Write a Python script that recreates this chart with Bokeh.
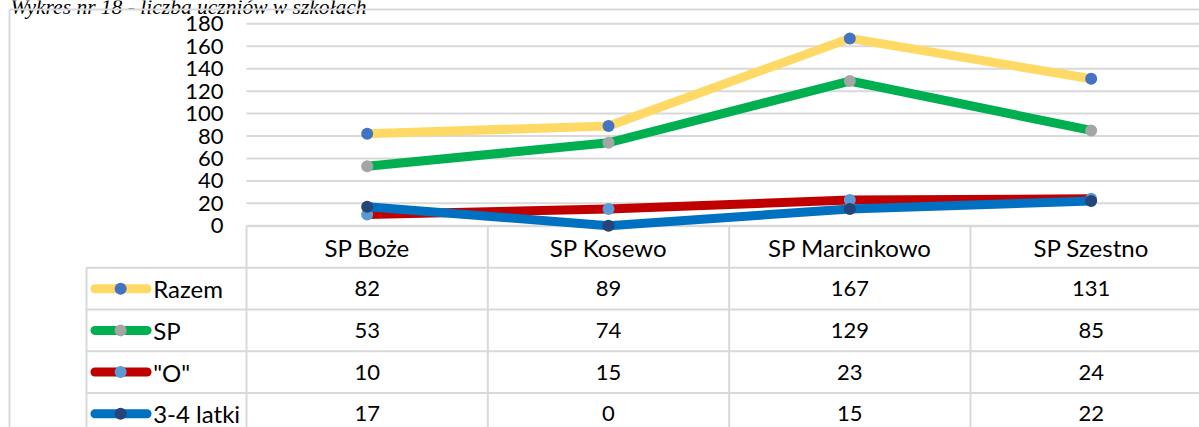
from bokeh.plotting import figure
from bokeh.models import Range1d, LinearAxis, FixedTicker
from bokeh.core.properties import value
from bokeh.embed import file_html
from bokeh.resources import INLINE

# ---- data ----
title = "Wykres nr 18 - liczba uczniów w szkołach"
categories = ["SP Boże", "SP Kosewo", "SP Marcinkowo", "SP Szestno"]
series_names = ["Razem", "SP", '"O"', "3-4 latki"]
razem = [82, 89, 167, 131]
sp = [53, 74, 129, 85]
o_vals = [10, 15, 23, 24]
latki = [17, 0, 15, 22]
y_ticks = [0, 20, 40, 60, 80, 100, 120, 140, 160, 180]

series_values = [razem, sp, o_vals, latki]
line_colors = ["#FFD966", "#00B050", "#C00000", "#0070C0"]
marker_colors = ["#4472C4", "#A5A5A5", "#5B9BD5", "#264478"]

FONT = "Lato"
FS_TXT = "24px"
FS_NUM = "22px"
GRID = "#D9D9D9"
LW = 9
MS = 12

n_cat = len(categories)
n_rows = len(series_names)

# layout constants (category units / value units / table-row units)
X_START, X_END = -1.01935, 3.94895
Y_START, Y_END = -179.73, 200.76
T_BOTTOM, T_TOP = 4.8308, -5.4164
LEG_X = -0.663
KEY_X0, KEY_X1, KEY_XM = -0.628, -0.412, -0.5215
LABEL_X = -0.3866
BORDER_X, BORDER_Y = -0.98206, 192.74
TITLE_X, TITLE_Y = -0.9779, 194.53

p = figure(width=1199, height=427, output_backend="svg", toolbar_location=None,
           x_range=Range1d(X_START, X_END), y_range=Range1d(Y_START, Y_END),
           x_axis_location=None, y_axis_location=None,
           min_border=0, min_border_left=0, min_border_top=0,
           min_border_right=0, min_border_bottom=0,
           border_fill_color="white", background_fill_color="white",
           outline_line_color=None)
p.grid.visible = False
p.extra_y_ranges = {"table": Range1d(start=T_BOTTOM, end=T_TOP)}

# title (cut at the top as in the source picture)
p.text(x=[TITLE_X], y=[TITLE_Y], text=[title], text_font=value("Liberation Serif"),
       text_font_style="italic", text_font_size="21.5px", text_color="black",
       text_align="left", text_baseline="alphabetic")

# outer chart border (left + top)
p.segment(x0=[BORDER_X, BORDER_X], x1=[BORDER_X, X_END], y0=[BORDER_Y, BORDER_Y],
          y1=[Y_START, BORDER_Y], line_color=GRID, line_width=2)

# gridlines
p.segment(x0=[0] * len(y_ticks), x1=[n_cat] * len(y_ticks), y0=y_ticks, y1=y_ticks,
          line_color=GRID, line_width=2)

# y axis
yaxis = LinearAxis(fixed_location=0, ticker=FixedTicker(ticks=y_ticks),
                   axis_line_color=None, major_tick_line_color=None,
                   minor_tick_line_color=None, major_tick_out=0, major_tick_in=0,
                   major_label_standoff=23, major_label_text_font=FONT,
                   major_label_text_font_size=FS_NUM, major_label_text_color="black")
p.add_layout(yaxis, "left")

# table lines
vx = list(range(n_cat + 1))
p.segment(x0=vx, x1=vx, y0=[0] * len(vx), y1=[n_rows + 1] * len(vx),
          line_color=GRID, line_width=2, y_range_name="table")
p.segment(x0=[LEG_X], x1=[LEG_X], y0=[1], y1=[n_rows + 1],
          line_color=GRID, line_width=2, y_range_name="table")
hy = list(range(1, n_rows + 2))
p.segment(x0=[0] + [LEG_X] * len(hy), x1=[n_cat] * (len(hy) + 1), y0=[0] + hy, y1=[0] + hy,
          line_color=GRID, line_width=2, y_range_name="table")

# header texts
p.text(x=[i + 0.5 for i in range(n_cat)], y=[0.5] * n_cat, text=categories,
       text_font=value(FONT), text_font_size=FS_TXT, text_color="black",
       text_align="center", text_baseline="middle", y_range_name="table")

# series
xs = [i + 0.5 for i in range(n_cat)]
for k, (name, vals, lc, mc) in enumerate(zip(series_names, series_values, line_colors, marker_colors)):
    p.line(xs, vals, line_color=lc, line_width=LW, line_cap="round", line_join="round")
    p.scatter(xs, vals, size=MS, fill_color=mc, line_color=None)
    # table row
    t = k + 1.5
    p.text(x=xs, y=[t] * n_cat, text=[str(v) for v in vals],
           text_font=value(FONT), text_font_size=FS_NUM, text_color="black",
           text_align="center", text_baseline="middle", y_range_name="table")
    p.line([KEY_X0, KEY_X1], [t, t], line_color=lc, line_width=LW, line_cap="round",
           y_range_name="table")
    p.scatter([KEY_XM], [t], size=MS, fill_color=mc, line_color=None, y_range_name="table")
    p.text(x=[LABEL_X], y=[t], text=[name], text_font=value(FONT), text_font_size=FS_TXT,
           text_color="black", text_align="left", text_baseline="middle",
           y_range_name="table")

open("out.html", "w").write(file_html(p, INLINE))
